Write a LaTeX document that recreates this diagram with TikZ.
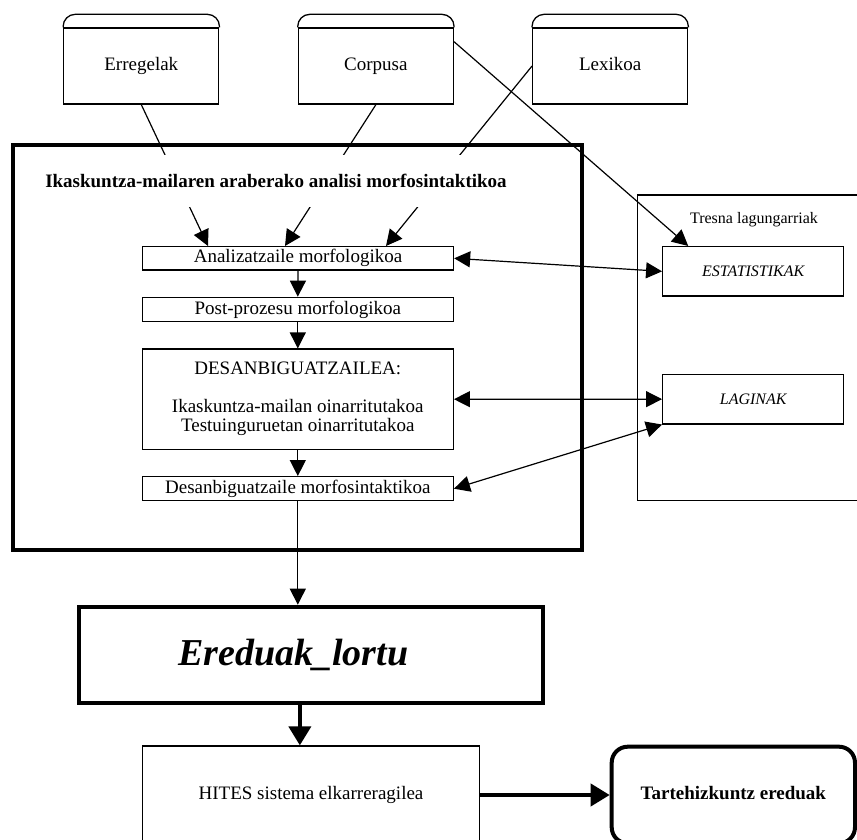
\documentclass[tikz,border=0pt]{standalone}
\usepackage{fontspec}
\setmainfont{Liberation Serif}
\usetikzlibrary{arrows.meta,calc}
\begin{document}
\begin{tikzpicture}[x=1pt,y=-1pt,
  box/.style={draw, line width=1.3pt, inner sep=0pt, align=center,
    font=\fontsize{19}{19}\selectfont},
  oneline/.style={text height=13pt, text depth=4pt},
  srcbox/.style={box, oneline, minimum width=155pt, minimum height=76pt},
  stagebox/.style={box, minimum width=311pt},
  toolbox/.style={draw, line width=1.3pt, inner sep=0pt, minimum width=181pt,
    minimum height=49.5pt, font=\fontsize{16}{16}\selectfont\itshape},
  flow/.style={line width=1.2pt, -{Triangle[length=16pt,width=16pt]}},
  twoway/.style={line width=1.2pt,
    {Triangle[length=16pt,width=16pt]}-{Triangle[length=16pt,width=16pt]}},
  heavy/.style={line width=4pt, -{Triangle[length=19pt,width=22pt]}},
]
\useasboundingbox (0,0) rectangle (857,840);
\clip (0,0) rectangle (857,840);

% resource stores with a rounded tab on top
\node[srcbox] (err)  at (141.3,66) {Erregelak};
\node[srcbox] (corp) at (375.9,66) {Corpusa};
\node[srcbox] (lex)  at (610.2,66) {Lexikoa};
\foreach \s in {err,corp,lex}
  \draw[line width=1.3pt, rounded corners=12pt]
    (\s.north west) -- ++(0,-13) -| (\s.north east);

% analysis frame
\node[draw, line width=4.5pt, inner sep=0pt, minimum width=569pt,
  minimum height=405pt] (main) at (297.5,347.5) {};

\node[stagebox, oneline, minimum height=23.3pt] (anal) at (298,258.3) {Analizatzaile morfologikoa};
\node[stagebox, oneline, minimum height=24.4pt] (post) at (297.8,309.5) {Post-prozesu morfologikoa};
\node[stagebox, minimum height=100.3pt] (desa) at (297.8,399.2)
  {DESANBIGUATZAILEA:\\[19pt]Ikaskuntza-mailan oinarritutakoa\\Testuinguruetan oinarritutakoa};
\node[stagebox, oneline, minimum height=24pt] (desm) at (297.8,488.7) {Desanbiguatzaile morfosintaktikoa};

% auxiliary tools
\node[draw, line width=1.3pt, inner sep=0pt, minimum width=262.7pt,
  minimum height=305.7pt] (tresna) at (768.65,347.85) {};
\node[font=\fontsize{16}{16}\selectfont, inner sep=0pt] (tresnalbl) at (754,220) {Tresna lagungarriak};
\node[toolbox] (estat) at (753.2,271.35) {ESTATISTIKAK};
\node[toolbox] (lag)   at (753.2,399.15) {LAGINAK};

% output stages
\node[draw, line width=4pt, inner sep=0pt, minimum width=463.7pt,
  minimum height=96.6pt] (ered) at (310.85,655) {};
\node[inner sep=0pt, font=\fontsize{38}{38}\selectfont\bfseries\itshape]
  (eredtxt) at (293.3,655) {Ereduak\_lortu};
\node[box, oneline, minimum width=336.6pt, minimum height=98pt] (hites) at (311,795)
  {HITES sistema elkarreragilea};
\node[draw, line width=4pt, rounded corners=16pt, inner sep=0pt, oneline,
  minimum width=243.3pt, minimum height=96.6pt,
  font=\fontsize{19}{19}\selectfont\bfseries] (tarte) at (733.35,795)
  {Tartehizkuntz ereduak};

% inputs into the morphological analyser
\draw[flow] (err.south)  -- ([xshift=-90pt]anal.north);
\draw[flow] (corp.south) -- ([xshift=-13pt]anal.north);
\draw[flow] (lex.west)   -- ([xshift=88pt]anal.north);
\draw[flow] ([yshift=24.3pt]corp.east) -- ([xshift=-65pt]estat.north);

% processing chain
\draw[flow] (anal.south) -- (post.north);
\draw[flow] (post.south) -- (desa.north);
\draw[flow] (desa.south) -- (desm.north);
\draw[flow] (desm.south) -- (desm.south |- ered.north);

% links with the tools
\draw[twoway] (anal.east) -- (estat.west);
\draw[twoway] (desa.east) -- (lag.west);
\draw[twoway] (desm.east) -- (lag.south west);

% final stages
\draw[heavy] ([xshift=-11pt]ered.south) -- ([xshift=-11pt]ered.south |- hites.north);
\draw[heavy] (hites.east) -- (tarte.west);

% frame title, laid over the incoming connectors
\node[fill=white, inner sep=0pt, minimum width=475pt, minimum height=52pt,
  font=\fontsize{19}{19}\selectfont\bfseries] (title) at (276,181)
  {Ikaskuntza-mailaren araberako analisi morfosintaktikoa};
\end{tikzpicture}
\end{document}
